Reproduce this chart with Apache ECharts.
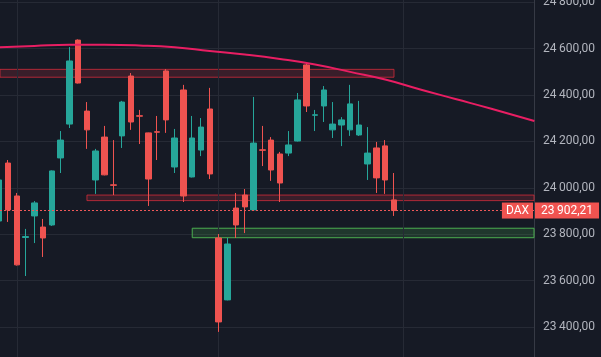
<!DOCTYPE html>
<html><head><meta charset="utf-8">
<script src="https://cdn.jsdelivr.net/npm/echarts@6/dist/echarts.min.js"></script>
<style>html,body{margin:0;padding:0;background:#161a25;}#c{width:601px;height:357px;}</style>
</head><body><div id="c"></div>
<script>
// ---- data ----
const candleIndex = [0,1,2,3,4,5,6,7,8,9,10,11,12,13,14,15,16,17,18,19,20,21,22,23,24,25,26,27,28,29,30,31,32,33,34,35,36,37,38,39,40,41,42,43,44,45];
const opens  = [23857,24107,23965,23786,23879,23831,23840,24129,24275,24637,24331,24034,24219,24013,24224,24482,24311,24237,24242,24504,24090,24422,24047,24163,24340,23784,23517,23913,23969,23905,24164,24206,24146,24150,24202,24530,24313,24353,24250,24271,24250,24228,24103,24172,24181,23948];
const closes = [24034,23905,23668,23790,23935,23784,24073,24206,24547,24452,24250,24159,24056,24011,24370,24284,24309,24038,24240,24293,24215,23965,24215,24262,24060,23422,23758,23840,23918,24193,24162,24077,24021,24185,24379,24353,24315,24422,24275,24293,24362,24271,24150,24043,24034,23902.21];
const lows   = [23848,23853,23665,23620,23762,23702,23836,24064,24258,24450,24168,23974,24054,23969,24172,24250,24189,23922,24120,24237,24064,23939,24045,24137,24038,23379,23515,23784,23805,23903,24094,24030,23939,24137,24200,24327,24245,24284,24215,24180,24224,24224,24034,23978,23974,23879];
const highs  = [24043,24120,23978,23823,23943,23866,24075,24245,24607,24640,24370,24168,24267,24206,24375,24495,24336,24238,24310,24512,24254,24444,24310,24301,24431,23801,23784,23978,23995,24392,24267,24219,24155,24245,24409,24538,24336,24439,24370,24305,24444,24375,24262,24198,24206,24064];

// long moving-average curve (read at candle positions)
const maIndex  = [0,4,8,12,16,20,24,28,32,36,40,44,48,52,56,61];
const maValues = [24606,24612,24617,24617,24614,24606,24590,24575,24556,24532,24500,24467,24424,24383,24342,24288];

// zones: [fromIndex, toIndex, low, high]
const redZones   = [[-1, 45, 24477, 24511], [10, 70, 23945, 23969]];
const greenZones = [[22, 70, 23785, 23826]];

// month separators (candle index)
const monthStarts = [2, 25, 46];

const symbolName = 'DAX';
const lastPrice = 23902.21;
const yTicksMin = 23200, yTicksMax = 25000, yTickStep = 200;
const xMin = 0.088, xMax = 60.96;

// ---- chart ----
function fmt(v){
  const s = Number(v).toFixed(2);
  const p = s.split('.');
  return p[0].replace(/\B(?=(\d{3})+(?!\d))/g, '\u2009') + ',' + p[1];
}
const chart = echarts.init(document.getElementById('c'), null, {renderer:'canvas'});
const red = '#ef5350', green = '#26a69a';
const option = {
  backgroundColor: '#161a25',
  animation: false,
  grid: {left: 0, right: 67, top: -44.09, bottom: -16.42, containLabel: false, outerBoundsMode: 'none'},
  xAxis: {type: 'value', min: xMin, max: xMax, show: false},
  yAxis: {
    type: 'value', position: 'right', min: yTicksMin, max: yTicksMax, interval: yTickStep,
    axisLine: {show: true, lineStyle: {color: '#363a45', width: 1}},
    axisTick: {show: false},
    axisLabel: {color: '#b2b5be', fontSize: 12, fontFamily: 'Roboto', margin: 9, formatter: fmt},
    splitLine: {show: true, lineStyle: {color: '#262a35', width: 1}}
  },
  series: [
    {
      type: 'line', name: 'zones', data: [], z: 1, silent: true,
      markArea: {
        silent: true, z: 1,
        data: redZones.map(z => [
          {coord: [Math.max(z[0], xMin), z[3]], itemStyle: {color: 'rgba(242,54,69,0.16)', borderColor: 'rgba(222,46,60,0.75)', borderWidth: 1}},
          {coord: [Math.min(z[1], xMax), z[2]]}
        ]).concat(greenZones.map(z => [
          {coord: [Math.max(z[0], xMin), z[3]], itemStyle: {color: 'rgba(76,175,80,0.2)', borderColor: '#4caf50', borderWidth: 1}},
          {coord: [Math.min(z[1], xMax), z[2]]}
        ]))
      },
      markLine: {
        silent: true, z: 1, symbol: 'none', label: {show: false},
        lineStyle: {color: '#262a35', type: 'solid', width: 1},
        data: monthStarts.map(x => ({xAxis: x}))
      }
    },
    {
      type: 'candlestick', name: 'DAX', z: 2,
      barWidth: 6,
      data: candleIndex.map(i => [i, opens[i], closes[i], lows[i], highs[i]]),
      itemStyle: {color: green, color0: red, borderColor: green, borderColor0: red, borderWidth: 1},
      markLine: {
        silent: true, symbol: 'none', label: {show: false},
        lineStyle: {color: '#f05a5a', type: [2, 2], width: 1},
        data: [{yAxis: lastPrice}]
      }
    },
    {
      type: 'line', name: 'MA', z: 4, smooth: true, showSymbol: false, silent: true,
      data: maIndex.map((x, i) => [x, maValues[i]]),
      lineStyle: {color: '#e91e63', width: 2}
    }
  ]
};
chart.setOption(option);
const yPix = chart.convertToPixel({yAxisIndex: 0}, lastPrice);
const xEdge = chart.convertToPixel({xAxisIndex: 0}, xMax);
chart.setOption({
  graphic: [
    {type: 'text', z: 100, x: xEdge - 1, y: yPix,
     style: {text: symbolName, fill: '#ffffff', font: '12px Roboto', align: 'right', verticalAlign: 'middle',
             backgroundColor: '#f05350', padding: [2, 4, 2, 4]}},
    {type: 'text', z: 100, x: xEdge + 1, y: yPix,
     style: {text: fmt(lastPrice), fill: '#ffffff', font: '12px Roboto', align: 'left', verticalAlign: 'middle',
             backgroundColor: '#f05350', padding: [2, 6, 2, 6]}}
  ]
});
</script></body></html>
